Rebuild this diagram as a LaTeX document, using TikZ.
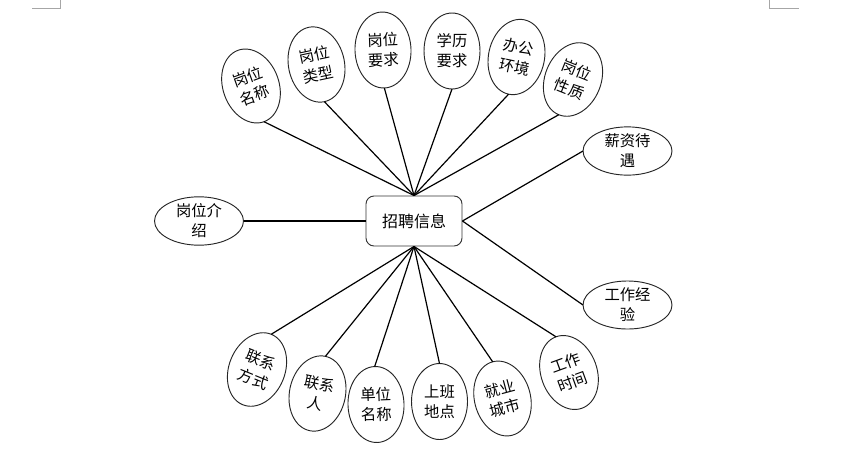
\documentclass[tikz,border=0pt]{standalone}
\usepackage{fontspec}
\newfontfamily\cjk{Noto Sans CJK SC}
\usetikzlibrary{shapes.geometric}
\begin{document}
\begin{tikzpicture}[x=0.75pt,y=-0.75pt,
  attr/.style={ellipse,draw=black!85,line width=0.7pt,fill=white,
    minimum width=42pt,minimum height=57pt,inner sep=0pt,outer sep=0pt,
    align=center,font=\cjk\fontsize{11.5pt}{15pt}\selectfont},
  hattr/.style={attr,minimum width=66.75pt,minimum height=36pt},
  mainbox/.style={rectangle,rounded corners=6pt,draw=black!80,line width=0.7pt,
    fill=white,minimum width=72pt,minimum height=37.5pt,inner sep=0pt,
    font=\cjk\fontsize{12pt}{15pt}\selectfont},
  link/.style={line width=0.9pt,black},
  cornermark/.style={draw=black!35,line width=0.6pt}]
\useasboundingbox (0,0) rectangle (841,450);

% page corner marks
\coordinate (cl1) at (32,8); \coordinate (cl2) at (60.5,8); \coordinate (cl3) at (60.5,0);
\coordinate (cr1) at (769.5,0); \coordinate (cr2) at (769.5,8); \coordinate (cr3) at (799,8);
\draw[cornermark] (cl1) -- (cl2) -- (cl3);
\draw[cornermark] (cr1) -- (cr2) -- (cr3);

\node[mainbox] (c) at (414,221) {招聘信息};

% top
\node[attr,rotate=20]  (e1) at (251,86)     {岗位\\名称};
\node[attr,rotate=12]  (e2) at (316.5,64.5) {岗位\\类型};
\node[attr,rotate=2]   (e3) at (383,50)     {岗位\\要求};
\node[attr,rotate=0]   (e4) at (452,51)     {学历\\要求};
\node[attr,rotate=-12] (e5) at (516.5,57)   {办公\\环境};
\node[attr,rotate=-22] (e6) at (573,79.5)   {岗位\\性质};

% sides
\node[hattr] (r1) at (627.5,151) {薪资待\\遇};
\node[hattr] (r2) at (627.5,305) {工作经\\验};
\node[hattr] (l1) at (199,221)   {岗位介\\绍};

% bottom
\node[attr,rotate=-22] (b1) at (257,369.5)   {联系\\方式};
\node[attr,rotate=-12] (b2) at (317.5,393.5) {联系\\人};
\node[attr,rotate=2]   (b3) at (376,404.5)   {单位\\名称};
\node[attr,rotate=0]   (b4) at (439.5,401.5) {上班\\地点};
\node[attr,rotate=15]  (b5) at (502.5,398.5) {就业\\城市};
\node[attr,rotate=20]  (b6) at (569,372.5)   {工作\\时间};

\foreach \n in {e1,e2,e3,e4,e5,e6} \draw[link] (c.north) -- (\n.south);
\foreach \n in {b1,b2,b3,b4,b5,b6} \draw[link] (c.south) -- (\n.north);
\draw[link] (c.east) -- (r1.west);
\draw[link] (c.east) -- (r2.west);
\draw[link] (c.west) -- (l1.east);
\end{tikzpicture}
\end{document}
